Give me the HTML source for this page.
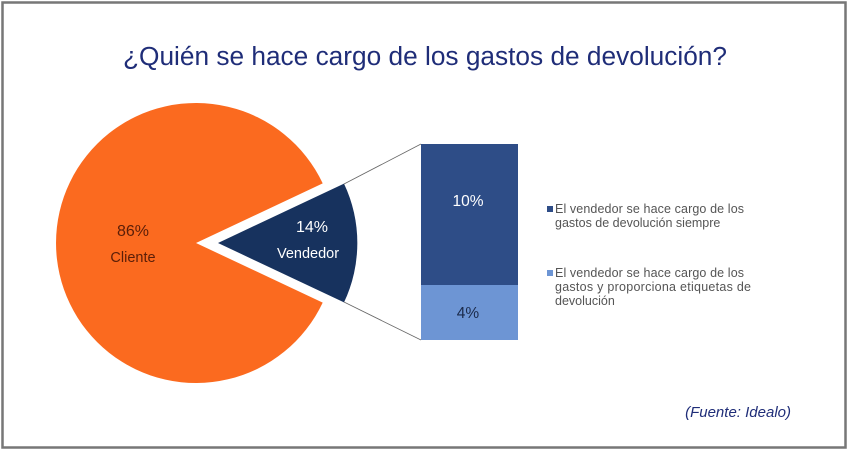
<!DOCTYPE html>
<html><head><meta charset="utf-8"><style>
html,body{margin:0;padding:0;background:#fff;}
body{width:849px;height:451px;overflow:hidden;}
</style></head><body>
<svg width="849" height="451" viewBox="0 0 849 451" xmlns="http://www.w3.org/2000/svg" font-family="Liberation Sans, sans-serif">
<rect x="2.5" y="2.5" width="843" height="445" fill="#fff" stroke="#777" stroke-width="2.5"/>
<text x="425" y="65" text-anchor="middle" font-size="25.5" fill="#1f2d78" textLength="604" lengthAdjust="spacingAndGlyphs">¿Quién se hace cargo de los gastos de devolución?</text>
<path d="M196,243 L322.7,183.4 A140,140 0 1 0 322.7,302.6 Z" fill="#fb6a1f"/>
<path d="M218,243 L344,183.6 A139,139 0 0 1 344,302.4 Z" fill="#17325e"/>
<line x1="344" y1="184" x2="421" y2="144" stroke="#666" stroke-width="0.8"/>
<line x1="344" y1="302" x2="421" y2="340" stroke="#666" stroke-width="0.8"/>
<rect x="421" y="144" width="97" height="141" fill="#2e4d87"/>
<rect x="421" y="285" width="97" height="55" fill="#6d95d4"/>
<text x="133" y="236" text-anchor="middle" font-size="16" fill="#5a1e08">86%</text>
<text x="133" y="262" text-anchor="middle" font-size="14.5" fill="#5a1e08">Cliente</text>
<text x="312" y="232" text-anchor="middle" font-size="16" fill="#fff">14%</text>
<text x="308" y="258" text-anchor="middle" font-size="14.5" fill="#fff">Vendedor</text>
<text x="468" y="206" text-anchor="middle" font-size="15.5" fill="#fff">10%</text>
<text x="468" y="318" text-anchor="middle" font-size="15.5" fill="#1b2a4a">4%</text>
<rect x="547" y="206" width="6" height="6" fill="#2e4d87"/>
<text font-size="12.5" fill="#555"><tspan x="555" y="213" textLength="189">El vendedor se hace cargo de los</tspan><tspan x="555" y="227">gastos de devolución siempre</tspan></text>
<rect x="547" y="270" width="6" height="6" fill="#6d95d4"/>
<text font-size="12.5" fill="#555"><tspan x="555" y="277" textLength="189">El vendedor se hace cargo de los</tspan><tspan x="555" y="291" textLength="196">gastos y proporciona etiquetas de</tspan><tspan x="555" y="305">devolución</tspan></text>
<text x="791" y="417" text-anchor="end" font-size="15" font-style="italic" fill="#1f2d78">(Fuente: Idealo)</text>
</svg>
</body></html>
